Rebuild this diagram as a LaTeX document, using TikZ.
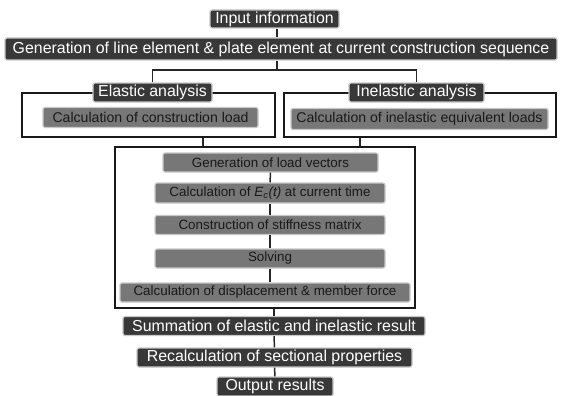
\documentclass[tikz,border=0pt]{standalone}
\usepackage{fontspec}
\setmainfont{Liberation Sans}
\usepackage{tikz}
\usetikzlibrary{positioning}

\definecolor{boxdark}{HTML}{383838}
\definecolor{boxmid}{HTML}{777777}
\definecolor{halo}{HTML}{C8C8C8}

\tikzset{
  darkbox/.style={draw=halo, line width=1.2pt, fill=boxdark, text=white, rounded corners=2pt,
    inner sep=0pt, font=\fontsize{15.9}{17}\selectfont},
  midbox/.style={draw=halo, line width=1.2pt, fill=boxmid, text=black!90, rounded corners=2pt,
    inner sep=0pt, font=\fontsize{14.1}{16}\selectfont},
  stepbox/.style={midbox, font=\fontsize{13.4}{15}\selectfont},
  frame/.style={draw=black!90, line width=1.4pt, inner sep=0pt},
  link/.style={draw=black!85, line width=1.5pt}
}

\begin{document}
\begin{tikzpicture}[x=1pt, y=-1pt]
            \useasboundingbox (0,0) rectangle (562,396);

            % frames
            \node[frame, minimum width=253pt, minimum height=44pt] (eframe) at (148.5,115) {};
            \node[frame, minimum width=272pt, minimum height=44pt] (iframe) at (420,115) {};
            \node[frame, minimum width=300pt, minimum height=161pt] (mframe) at (265,227.5) {};

            \node[darkbox, minimum width=129pt, minimum height=18pt] (input) at (274.5,19) {Input information};
            \node[darkbox, minimum width=552pt, minimum height=22pt] (lineel) at (281,49)
                {Generation of line element \& plate element at current construction sequence};
            \node[darkbox, minimum width=119pt, minimum height=19pt] (elab) at (152.5,92.5) {Elastic analysis};
            \node[darkbox, minimum width=135pt, minimum height=19pt] (ilab) at (416.5,92.5) {Inelastic analysis};
            \node[midbox, minimum width=215pt, minimum height=20pt] (cload) at (150.5,117.5) {Calculation of construction load};
            \node[midbox, minimum width=257pt, minimum height=21pt] (iload) at (419.5,119) {Calculation of inelastic equivalent loads};

            % steps inside the common frame
            \node[stepbox, minimum width=215pt, minimum height=19pt] (gen) at (270.5,162.5) {Generation of load vectors};
            \node[stepbox, minimum width=230pt, minimum height=20pt] (ec) at (270,193)
                {Calculation of \textit{E}\textsubscript{\textit{c}}\textit{(t)} at current time};
            \node[stepbox, minimum width=230pt, minimum height=19pt] (stiff) at (270,225) {Construction of stiffness matrix};
            \node[stepbox, minimum width=230pt, minimum height=19pt] (solve) at (270,258.5) {Solving};
            \node[stepbox, minimum width=290pt, minimum height=19pt] (disp) at (265,292.5)
                {Calculation of displacement \& member force};

            \node[darkbox, minimum width=302pt, minimum height=19pt] (sum) at (274,326) {Summation of elastic and inelastic result};
            \node[darkbox, minimum width=275pt, minimum height=19pt] (recalc) at (274.5,357.5) {Recalculation of sectional properties};
            \node[darkbox, minimum width=116pt, minimum height=19pt] (output) at (275,386.5) {Output results};

            \coordinate (split) at (277,70);

            \draw[link] (input.south -| split) -- (lineel.north -| split);
            \draw[link] (lineel.south -| split) -- (split);
            \draw[link] (elab.north) |- (split) -| (ilab.north);
            \draw[link] ([xshift=54.5pt]eframe.south) -- ([xshift=54.5pt]eframe.south |- mframe.north);
            \draw[link] ([xshift=-60pt]iframe.south) -- ([xshift=-60pt]iframe.south |- mframe.north);
            \draw[link] (gen) -- (ec);
            \draw[link] (ec) -- (stiff);
            \draw[link] (stiff) -- (solve);
            \draw[link] (solve) -- (disp.north -| solve);
            \draw[link] (mframe.south -| sum) -- (sum);
            \draw[link] (sum) -- (recalc);
            \draw[link] (recalc) -- (output);
        \end{tikzpicture}
\end{document}
